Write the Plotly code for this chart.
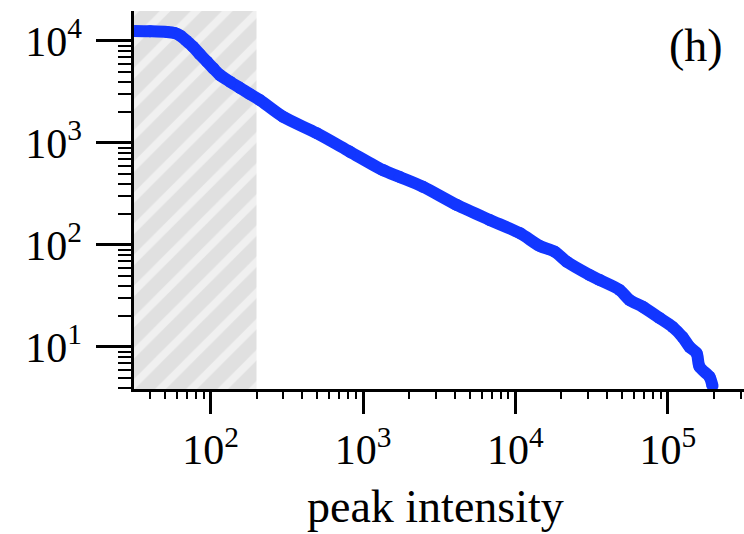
import plotly.graph_objects as go

# ---- data (complementary cumulative count vs peak intensity)
peak_intensity = [31.4, 40.0, 51.7, 58, 63, 69, 76.6, 85, 94.6, 104, 115, 134, 156,
                  180, 210, 298, 498, 819, 1348, 1742, 2466, 4121, 6780, 10660,
                  14420, 18100, 21700, 30700, 35700, 48300, 56100, 68400, 88300,
                  107600, 125000, 139000, 154500, 161500, 187800, 196500]
count_above = [12550, 12450, 12250, 11950, 11300, 10100, 8800, 7400, 6270, 5400,
               4640, 3990, 3460, 3030, 2640, 1811, 1245, 822, 543, 464, 373, 247,
               176, 131, 98, 86, 68.6, 50.8, 45.4, 36.2, 28.9, 24.8, 19.2, 15.7,
               12.5, 10, 8.7, 6.4, 5.1, 4.15]

# excluded (hatched) low-intensity region upper bound
hatch_upper = 200

x_tick_vals = [1e2, 1e3, 1e4, 1e5]
x_tick_text = ["10<sup>2</sup>", "10<sup>3</sup>", "10<sup>4</sup>", "10<sup>5</sup>"]
y_tick_vals = [1e1, 1e2, 1e3, 1e4]
y_tick_text = ["10<sup>1</sup>", "10<sup>2</sup>", "10<sup>3</sup>", "10<sup>4</sup>"]

x_range_log = [1.497, 5.50]
y_range_log = [0.588, 4.294]

minor_vals = [m * 10 ** k for k in range(0, 7) for m in range(2, 10)]

FONT = "Liberation Serif"
BLUE = "#1236ff"

fig = go.Figure()

# hatched region
hx0 = 10 ** x_range_log[0]
hy0 = 10 ** y_range_log[0]
hy1 = 10 ** y_range_log[1]
fig.add_trace(go.Scatter(
    x=[hx0, hatch_upper, hatch_upper, hx0, hx0],
    y=[hy0, hy0, hy1, hy1, hy0],
    mode="lines", line=dict(width=0), fill="toself",
    fillcolor="#e0e0e0",
    fillpattern=dict(shape="/", bgcolor="#e0e0e0", fgcolor="#ffffff",
                     size=22, solidity=0.35),
    hoverinfo="skip", showlegend=False,
))

fig.add_trace(go.Scatter(
    x=peak_intensity, y=count_above,
    mode="lines+markers",
    line=dict(color=BLUE, width=12, shape="spline", smoothing=0.8),
    marker=dict(color=BLUE, size=12),
    cliponaxis=False, showlegend=False,
))

axis_common = dict(
    type="log", showline=True, linecolor="black", linewidth=2.5,
    ticks="outside", tickwidth=2.5, tickcolor="black",
    showgrid=False, zeroline=False, mirror=False,
    tickmode="array",
    tickfont=dict(family=FONT, size=42, color="black"),
)

fig.update_xaxes(
    **axis_common, range=x_range_log, ticklen=22,
    tickvals=x_tick_vals, ticktext=x_tick_text,
    minor=dict(ticks="outside", ticklen=7, tickwidth=2.2, tickcolor="black",
               tickmode="array", tickvals=minor_vals, showgrid=False),
)
fig.update_yaxes(
    **axis_common, range=y_range_log, ticklen=35,
    tickvals=y_tick_vals, ticktext=y_tick_text, ticklabelstandoff=6,
    minor=dict(ticks="outside", ticklen=13, tickwidth=2.2, tickcolor="black",
               tickmode="array", tickvals=minor_vals, showgrid=False),
)

fig.add_annotation(text="peak intensity", xref="paper", yref="paper",
                   x=0.495, y=-0.312, xanchor="center", yanchor="middle",
                   showarrow=False, font=dict(family=FONT, size=46, color="black"))
fig.add_annotation(text="(h)", xref="paper", yref="paper",
                   x=0.921, y=0.91, xanchor="center", yanchor="middle",
                   showarrow=False, font=dict(family=FONT, size=46, color="black"))

fig.update_layout(
    width=744, height=534,
    margin=dict(l=134, r=0, t=11, b=145),
    paper_bgcolor="white", plot_bgcolor="white",
    showlegend=False,
)

fig.write_html("out.html")
